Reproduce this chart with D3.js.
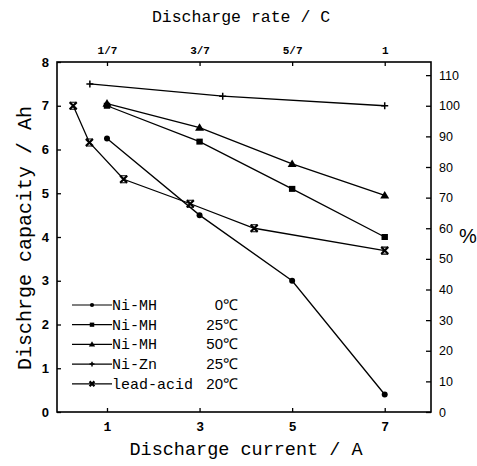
<!DOCTYPE html>
<html>
<head>
<meta charset="utf-8">
<script src="https://cdn.jsdelivr.net/npm/d3@7"></script>
<style>
  body { margin: 0; background: #fff; }
  svg { display: block; }
</style>
</head>
<body>
<svg id="chart" width="477" height="466"></svg>
<script>
// Discharge current (A) and capacity (Ah) for each battery
const niMH0X = [1, 3, 5, 7];
const niMH0Y = [6.25, 4.5, 3.0, 0.4];
const niMH25X = [1, 3, 5, 7];
const niMH25Y = [7.0, 6.18, 5.1, 4.0];
const niMH50X = [1, 3, 5, 7];
const niMH50Y = [7.05, 6.5, 5.67, 4.95];
const niZnX = [0.63, 3.5, 7];
const niZnY = [7.5, 7.22, 7.0];
const leadX = [0.27, 0.62, 1.36, 2.8, 4.18, 7];
const leadY = [7.0, 6.16, 5.32, 4.76, 4.2, 3.69];

const seriesNames = ["Ni-MH", "Ni-MH", "Ni-MH", "Ni-Zn", "lead-acid"];
const seriesTemps = ["0℃", "25℃", "50℃", "25℃", "20℃"];
const seriesMarks = ["circle", "square", "triangle", "plus", "cross"];

const bottomTicks = [1, 3, 5, 7];
const topTickLabels = ["1/7", "3/7", "5/7", "1"];
const leftTicks = [0, 1, 2, 3, 4, 5, 6, 7, 8];
const rightTicks = [0, 10, 20, 30, 40, 50, 60, 70, 80, 90, 100, 110];

const allSeries = [
  [niMH0X, niMH0Y], [niMH25X, niMH25Y], [niMH50X, niMH50Y],
  [niZnX, niZnY], [leadX, leadY]
];

const margin = {left: 57, right: 46, top: 62, bottom: 54};
const W = 477, H = 466;

const svg = d3.select("#chart");

const x = d3.scaleLinear().domain([-0.08, 8]).range([margin.left, W - margin.right]);
const y = d3.scaleLinear().domain([0, 8]).range([H - margin.bottom, margin.top]);
// 100 % == 7 Ah
const yR = d3.scaleLinear().domain([0, 800 / 7]).range([H - margin.bottom, margin.top]);

const sans = "'Liberation Sans', Arial, sans-serif";
const mono = "'Liberation Mono', 'DejaVu Sans Mono', monospace";

// frame
svg.append("rect")
  .attr("x", x.range()[0]).attr("y", y.range()[1])
  .attr("width", x.range()[1] - x.range()[0])
  .attr("height", y.range()[0] - y.range()[1])
  .attr("fill", "none").attr("stroke", "#000").attr("stroke-width", 1.6);

// axes, ticks pointing inward
const axL = svg.append("g").attr("transform", `translate(${x.range()[0]},0)`)
  .call(d3.axisLeft(y).tickValues(leftTicks).tickSizeInner(-4).tickSizeOuter(0).tickPadding(8));
const axR = svg.append("g").attr("transform", `translate(${x.range()[1]},0)`)
  .call(d3.axisRight(yR).tickValues(rightTicks).tickSizeInner(-5).tickSizeOuter(0).tickPadding(8));
const axB = svg.append("g").attr("transform", `translate(0,${y.range()[0]})`)
  .call(d3.axisBottom(x).tickValues(bottomTicks).tickSizeInner(-4).tickSizeOuter(0).tickPadding(10));
const axT = svg.append("g").attr("transform", `translate(0,${y.range()[1]})`)
  .call(d3.axisTop(x).tickValues(bottomTicks).tickFormat((d, i) => topTickLabels[i])
    .tickSizeInner(-4).tickSizeOuter(0).tickPadding(8));

[axL, axR, axB, axT].forEach(a => {
  a.select(".domain").remove();
  a.selectAll("line").attr("stroke", "#000").attr("stroke-width", 1.3);
});
axL.selectAll("text").style("font-family", sans).style("font-size", "13px").style("font-weight", "bold");
axR.selectAll("text").style("font-family", sans).style("font-size", "12.5px");
axB.selectAll("text").style("font-family", mono).style("font-size", "13px").style("font-weight", "bold");
axT.selectAll("text").style("font-family", mono).style("font-size", "11px").style("font-weight", "bold");

// lines
const line = d3.line().x(d => x(d[0])).y(d => y(d[1]));
allSeries.forEach(s => {
  const pts = s[0].map((v, i) => [v, s[1][i]]);
  svg.append("path").datum(pts)
    .attr("d", line).attr("fill", "none")
    .attr("stroke", "#000").attr("stroke-width", 1.3);
});

// markers
function marker(g, type, cx, cy, k) {
  k = k || 1;
  if (type === "circle") {
    g.append("circle").attr("cx", cx).attr("cy", cy).attr("r", 3 * k).attr("fill", "#000");
  } else if (type === "square") {
    g.append("rect").attr("x", cx - 3.2 * k).attr("y", cy - 3 * k)
      .attr("width", 6.4 * k).attr("height", 6 * k).attr("fill", "#000");
  } else if (type === "triangle") {
    const s = 4.5 * k;
    g.append("path")
      .attr("d", `M${cx},${cy - s}L${cx + s},${cy + s * 0.7}L${cx - s},${cy + s * 0.7}Z`)
      .attr("fill", "#000");
  } else if (type === "plus") {
    const s = 3.5 * k;
    g.append("path")
      .attr("d", `M${cx - s},${cy}H${cx + s}M${cx},${cy - s}V${cy + s}`)
      .attr("stroke", "#000").attr("stroke-width", 1.5);
  } else {
    const s = 3.5 * k;
    g.append("path")
      .attr("d", `M${cx - s},${cy - s}L${cx + s},${cy + s}M${cx + s},${cy - s}L${cx - s},${cy + s}`)
      .attr("stroke", "#000").attr("stroke-width", 2.2);
    if (k === 1) {
      g.append("path")
        .attr("d", `M${cx - s},${cy - s}H${cx + s}M${cx - s},${cy + s}H${cx + s}`)
        .attr("stroke", "#000").attr("stroke-width", 1.2);
    }
  }
}

const markG = svg.append("g");
allSeries.forEach((s, si) => {
  s[0].forEach((v, i) => marker(markG, seriesMarks[si], x(v), y(s[1][i])));
});

// legend
const leg = svg.append("g");
seriesNames.forEach((name, i) => {
  const ly = 305 + i * 19.7;
  leg.append("line").attr("x1", 72).attr("x2", 112).attr("y1", ly).attr("y2", ly)
    .attr("stroke", "#000").attr("stroke-width", 1.2);
  marker(leg, seriesMarks[i], 92, ly, 0.7);
  leg.append("text").attr("x", 112).attr("y", ly + 5)
    .style("font-family", mono).style("font-size", "15px")
    .text(name);
  leg.append("text").attr("x", 238).attr("y", ly + 5).attr("text-anchor", "end")
    .style("font-family", sans).style("font-size", "15px")
    .text(seriesTemps[i]);
});

// titles
svg.append("text").attr("x", 241).attr("y", 22).attr("text-anchor", "middle")
  .style("font-family", mono).style("font-size", "16.5px")
  .text("Discharge rate / C");
svg.append("text").attr("x", 246).attr("y", 455).attr("text-anchor", "middle")
  .style("font-family", mono).style("font-size", "18.5px")
  .text("Discharge current / A");
svg.append("text").attr("transform", "translate(31,238) rotate(-90)").attr("text-anchor", "middle")
  .style("font-family", mono).style("font-size", "20px")
  .text("Dischrge capacity / Ah");
svg.append("text").attr("x", 468).attr("y", 243).attr("text-anchor", "middle")
  .style("font-family", sans).style("font-size", "20px")
  .text("%");
</script>
</body>
</html>
